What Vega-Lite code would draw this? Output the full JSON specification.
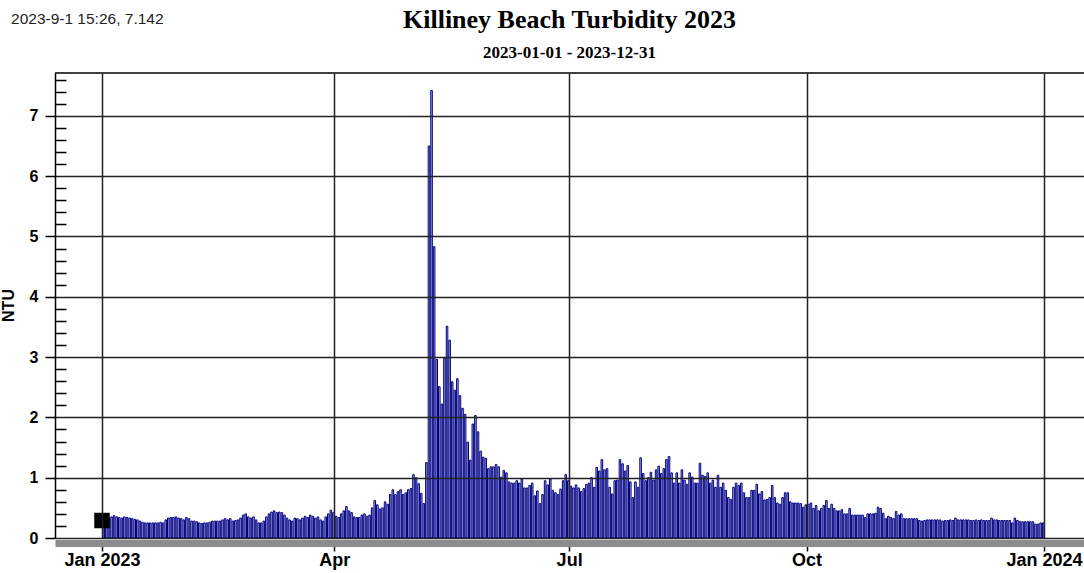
{
"$schema": "https://vega.github.io/schema/vega-lite/v6.json",
"autosize": {"type": "none"},
"padding": {"left": 55, "top": 73, "right": 0, "bottom": 35},
"width": 1029,
"height": 465,
"background": "white",
"config": {"view": {"stroke": null}, "font": "Liberation Sans"},
"title": {"text": "Killiney Beach Turbidity 2023", "subtitle": "2023-01-01 - 2023-12-31", "font": "Liberation Serif", "fontSize": 26, "fontWeight": "bold", "color": "#000", "subtitleFont": "Liberation Serif", "subtitleFontSize": 17, "subtitleFontWeight": "bold", "subtitleColor": "#000", "anchor": "middle", "frame": "group", "offset": 14, "subtitlePadding": 12, "dy": 63},
"datasets": {"turb": [
{"d":"2023-01-01","v":0.30},{"d":"2023-01-02","v":0.30},{"d":"2023-01-03","v":0.33},{"d":"2023-01-04","v":0.35},{"d":"2023-01-05","v":0.37},{"d":"2023-01-06","v":0.35},{"d":"2023-01-07","v":0.34},{"d":"2023-01-08","v":0.33},{"d":"2023-01-09","v":0.35},{"d":"2023-01-10","v":0.34},{"d":"2023-01-11","v":0.33},{"d":"2023-01-12","v":0.32},{"d":"2023-01-13","v":0.31},{"d":"2023-01-14","v":0.30},{"d":"2023-01-15","v":0.28},{"d":"2023-01-16","v":0.26},{"d":"2023-01-17","v":0.25},{"d":"2023-01-18","v":0.25},{"d":"2023-01-19","v":0.25},{"d":"2023-01-20","v":0.25},{"d":"2023-01-21","v":0.25},{"d":"2023-01-22","v":0.25},{"d":"2023-01-23","v":0.26},{"d":"2023-01-24","v":0.25},{"d":"2023-01-25","v":0.30},{"d":"2023-01-26","v":0.33},{"d":"2023-01-27","v":0.34},{"d":"2023-01-28","v":0.34},{"d":"2023-01-29","v":0.35},{"d":"2023-01-30","v":0.33},{"d":"2023-01-31","v":0.32},
{"d":"2023-02-01","v":0.30},{"d":"2023-02-02","v":0.34},{"d":"2023-02-03","v":0.32},{"d":"2023-02-04","v":0.28},{"d":"2023-02-05","v":0.28},{"d":"2023-02-06","v":0.27},{"d":"2023-02-07","v":0.25},{"d":"2023-02-08","v":0.24},{"d":"2023-02-09","v":0.25},{"d":"2023-02-10","v":0.25},{"d":"2023-02-11","v":0.26},{"d":"2023-02-12","v":0.28},{"d":"2023-02-13","v":0.28},{"d":"2023-02-14","v":0.28},{"d":"2023-02-15","v":0.28},{"d":"2023-02-16","v":0.30},{"d":"2023-02-17","v":0.32},{"d":"2023-02-18","v":0.30},{"d":"2023-02-19","v":0.32},{"d":"2023-02-20","v":0.28},{"d":"2023-02-21","v":0.29},{"d":"2023-02-22","v":0.30},{"d":"2023-02-23","v":0.33},{"d":"2023-02-24","v":0.38},{"d":"2023-02-25","v":0.40},{"d":"2023-02-26","v":0.35},{"d":"2023-02-27","v":0.33},{"d":"2023-02-28","v":0.35},
{"d":"2023-03-01","v":0.30},{"d":"2023-03-02","v":0.25},{"d":"2023-03-03","v":0.25},{"d":"2023-03-04","v":0.28},{"d":"2023-03-05","v":0.35},{"d":"2023-03-06","v":0.40},{"d":"2023-03-07","v":0.43},{"d":"2023-03-08","v":0.45},{"d":"2023-03-09","v":0.42},{"d":"2023-03-10","v":0.43},{"d":"2023-03-11","v":0.42},{"d":"2023-03-12","v":0.38},{"d":"2023-03-13","v":0.33},{"d":"2023-03-14","v":0.30},{"d":"2023-03-15","v":0.28},{"d":"2023-03-16","v":0.33},{"d":"2023-03-17","v":0.32},{"d":"2023-03-18","v":0.30},{"d":"2023-03-19","v":0.33},{"d":"2023-03-20","v":0.36},{"d":"2023-03-21","v":0.34},{"d":"2023-03-22","v":0.38},{"d":"2023-03-23","v":0.36},{"d":"2023-03-24","v":0.33},{"d":"2023-03-25","v":0.35},{"d":"2023-03-26","v":0.30},{"d":"2023-03-27","v":0.28},{"d":"2023-03-28","v":0.35},{"d":"2023-03-29","v":0.40},{"d":"2023-03-30","v":0.46},{"d":"2023-03-31","v":0.42},
{"d":"2023-04-01","v":0.36},{"d":"2023-04-02","v":0.34},{"d":"2023-04-03","v":0.40},{"d":"2023-04-04","v":0.45},{"d":"2023-04-05","v":0.52},{"d":"2023-04-06","v":0.45},{"d":"2023-04-07","v":0.42},{"d":"2023-04-08","v":0.35},{"d":"2023-04-09","v":0.34},{"d":"2023-04-10","v":0.34},{"d":"2023-04-11","v":0.38},{"d":"2023-04-12","v":0.40},{"d":"2023-04-13","v":0.36},{"d":"2023-04-14","v":0.38},{"d":"2023-04-15","v":0.50},{"d":"2023-04-16","v":0.62},{"d":"2023-04-17","v":0.55},{"d":"2023-04-18","v":0.48},{"d":"2023-04-19","v":0.50},{"d":"2023-04-20","v":0.60},{"d":"2023-04-21","v":0.56},{"d":"2023-04-22","v":0.72},{"d":"2023-04-23","v":0.80},{"d":"2023-04-24","v":0.72},{"d":"2023-04-25","v":0.77},{"d":"2023-04-26","v":0.80},{"d":"2023-04-27","v":0.72},{"d":"2023-04-28","v":0.75},{"d":"2023-04-29","v":0.80},{"d":"2023-04-30","v":0.82},
{"d":"2023-05-01","v":1.05},{"d":"2023-05-02","v":1.00},{"d":"2023-05-03","v":0.90},{"d":"2023-05-04","v":0.74},{"d":"2023-05-05","v":0.57},{"d":"2023-05-06","v":1.25},{"d":"2023-05-07","v":6.50},{"d":"2023-05-08","v":7.42},{"d":"2023-05-09","v":4.83},{"d":"2023-05-10","v":2.96},{"d":"2023-05-11","v":2.51},{"d":"2023-05-12","v":2.22},{"d":"2023-05-13","v":2.98},{"d":"2023-05-14","v":3.51},{"d":"2023-05-15","v":3.28},{"d":"2023-05-16","v":2.59},{"d":"2023-05-17","v":2.45},{"d":"2023-05-18","v":2.64},{"d":"2023-05-19","v":2.36},{"d":"2023-05-20","v":2.15},{"d":"2023-05-21","v":2.05},{"d":"2023-05-22","v":1.59},{"d":"2023-05-23","v":1.29},{"d":"2023-05-24","v":1.89},{"d":"2023-05-25","v":2.03},{"d":"2023-05-26","v":1.76},{"d":"2023-05-27","v":1.44},{"d":"2023-05-28","v":1.34},{"d":"2023-05-29","v":1.32},{"d":"2023-05-30","v":1.15},{"d":"2023-05-31","v":1.18},
{"d":"2023-06-01","v":1.18},{"d":"2023-06-02","v":1.22},{"d":"2023-06-03","v":1.18},{"d":"2023-06-04","v":1.01},{"d":"2023-06-05","v":1.12},{"d":"2023-06-06","v":1.08},{"d":"2023-06-07","v":0.93},{"d":"2023-06-08","v":0.91},{"d":"2023-06-09","v":0.91},{"d":"2023-06-10","v":0.95},{"d":"2023-06-11","v":0.91},{"d":"2023-06-12","v":0.98},{"d":"2023-06-13","v":0.83},{"d":"2023-06-14","v":0.83},{"d":"2023-06-15","v":0.87},{"d":"2023-06-16","v":0.91},{"d":"2023-06-17","v":0.70},{"d":"2023-06-18","v":0.78},{"d":"2023-06-19","v":0.57},{"d":"2023-06-20","v":0.72},{"d":"2023-06-21","v":0.95},{"d":"2023-06-22","v":0.88},{"d":"2023-06-23","v":0.98},{"d":"2023-06-24","v":0.79},{"d":"2023-06-25","v":0.75},{"d":"2023-06-26","v":0.72},{"d":"2023-06-27","v":0.81},{"d":"2023-06-28","v":0.95},{"d":"2023-06-29","v":1.05},{"d":"2023-06-30","v":0.95},
{"d":"2023-07-01","v":0.86},{"d":"2023-07-02","v":0.83},{"d":"2023-07-03","v":0.88},{"d":"2023-07-04","v":0.83},{"d":"2023-07-05","v":0.77},{"d":"2023-07-06","v":0.82},{"d":"2023-07-07","v":0.89},{"d":"2023-07-08","v":0.91},{"d":"2023-07-09","v":1.00},{"d":"2023-07-10","v":0.84},{"d":"2023-07-11","v":1.17},{"d":"2023-07-12","v":1.11},{"d":"2023-07-13","v":1.30},{"d":"2023-07-14","v":1.13},{"d":"2023-07-15","v":1.15},{"d":"2023-07-16","v":0.84},{"d":"2023-07-17","v":0.73},{"d":"2023-07-18","v":0.95},{"d":"2023-07-19","v":0.96},{"d":"2023-07-20","v":1.30},{"d":"2023-07-21","v":1.23},{"d":"2023-07-22","v":1.11},{"d":"2023-07-23","v":1.20},{"d":"2023-07-24","v":0.93},{"d":"2023-07-25","v":0.67},{"d":"2023-07-26","v":0.93},{"d":"2023-07-27","v":0.84},{"d":"2023-07-28","v":1.33},{"d":"2023-07-29","v":1.07},{"d":"2023-07-30","v":0.95},{"d":"2023-07-31","v":1.00},
{"d":"2023-08-01","v":1.09},{"d":"2023-08-02","v":0.96},{"d":"2023-08-03","v":1.13},{"d":"2023-08-04","v":1.19},{"d":"2023-08-05","v":1.07},{"d":"2023-08-06","v":1.15},{"d":"2023-08-07","v":1.30},{"d":"2023-08-08","v":1.35},{"d":"2023-08-09","v":1.08},{"d":"2023-08-10","v":0.91},{"d":"2023-08-11","v":1.08},{"d":"2023-08-12","v":0.91},{"d":"2023-08-13","v":1.13},{"d":"2023-08-14","v":0.96},{"d":"2023-08-15","v":0.89},{"d":"2023-08-16","v":1.08},{"d":"2023-08-17","v":1.01},{"d":"2023-08-18","v":0.91},{"d":"2023-08-19","v":0.91},{"d":"2023-08-20","v":1.24},{"d":"2023-08-21","v":1.04},{"d":"2023-08-22","v":1.02},{"d":"2023-08-23","v":1.08},{"d":"2023-08-24","v":0.91},{"d":"2023-08-25","v":0.96},{"d":"2023-08-26","v":0.84},{"d":"2023-08-27","v":1.04},{"d":"2023-08-28","v":0.84},{"d":"2023-08-29","v":0.91},{"d":"2023-08-30","v":0.79},{"d":"2023-08-31","v":0.67},
{"d":"2023-09-01","v":0.64},{"d":"2023-09-02","v":0.84},{"d":"2023-09-03","v":0.91},{"d":"2023-09-04","v":0.87},{"d":"2023-09-05","v":0.91},{"d":"2023-09-06","v":0.75},{"d":"2023-09-07","v":0.67},{"d":"2023-09-08","v":0.67},{"d":"2023-09-09","v":0.79},{"d":"2023-09-10","v":0.79},{"d":"2023-09-11","v":0.89},{"d":"2023-09-12","v":0.73},{"d":"2023-09-13","v":0.77},{"d":"2023-09-14","v":0.63},{"d":"2023-09-15","v":0.64},{"d":"2023-09-16","v":0.67},{"d":"2023-09-17","v":0.87},{"d":"2023-09-18","v":0.67},{"d":"2023-09-19","v":0.58},{"d":"2023-09-20","v":0.56},{"d":"2023-09-21","v":0.67},{"d":"2023-09-22","v":0.75},{"d":"2023-09-23","v":0.75},{"d":"2023-09-24","v":0.60},{"d":"2023-09-25","v":0.58},{"d":"2023-09-26","v":0.58},{"d":"2023-09-27","v":0.58},{"d":"2023-09-28","v":0.57},{"d":"2023-09-29","v":0.51},{"d":"2023-09-30","v":0.55},
{"d":"2023-10-01","v":0.56},{"d":"2023-10-02","v":0.58},{"d":"2023-10-03","v":0.49},{"d":"2023-10-04","v":0.54},{"d":"2023-10-05","v":0.45},{"d":"2023-10-06","v":0.49},{"d":"2023-10-07","v":0.54},{"d":"2023-10-08","v":0.62},{"d":"2023-10-09","v":0.49},{"d":"2023-10-10","v":0.56},{"d":"2023-10-11","v":0.49},{"d":"2023-10-12","v":0.45},{"d":"2023-10-13","v":0.45},{"d":"2023-10-14","v":0.47},{"d":"2023-10-15","v":0.40},{"d":"2023-10-16","v":0.40},{"d":"2023-10-17","v":0.49},{"d":"2023-10-18","v":0.38},{"d":"2023-10-19","v":0.38},{"d":"2023-10-20","v":0.38},{"d":"2023-10-21","v":0.38},{"d":"2023-10-22","v":0.38},{"d":"2023-10-23","v":0.34},{"d":"2023-10-24","v":0.40},{"d":"2023-10-25","v":0.40},{"d":"2023-10-26","v":0.40},{"d":"2023-10-27","v":0.41},{"d":"2023-10-28","v":0.51},{"d":"2023-10-29","v":0.49},{"d":"2023-10-30","v":0.41},{"d":"2023-10-31","v":0.32},
{"d":"2023-11-01","v":0.36},{"d":"2023-11-02","v":0.34},{"d":"2023-11-03","v":0.32},{"d":"2023-11-04","v":0.44},{"d":"2023-11-05","v":0.38},{"d":"2023-11-06","v":0.40},{"d":"2023-11-07","v":0.32},{"d":"2023-11-08","v":0.32},{"d":"2023-11-09","v":0.32},{"d":"2023-11-10","v":0.32},{"d":"2023-11-11","v":0.32},{"d":"2023-11-12","v":0.32},{"d":"2023-11-13","v":0.29},{"d":"2023-11-14","v":0.28},{"d":"2023-11-15","v":0.29},{"d":"2023-11-16","v":0.30},{"d":"2023-11-17","v":0.30},{"d":"2023-11-18","v":0.30},{"d":"2023-11-19","v":0.30},{"d":"2023-11-20","v":0.30},{"d":"2023-11-21","v":0.30},{"d":"2023-11-22","v":0.28},{"d":"2023-11-23","v":0.29},{"d":"2023-11-24","v":0.29},{"d":"2023-11-25","v":0.30},{"d":"2023-11-26","v":0.29},{"d":"2023-11-27","v":0.33},{"d":"2023-11-28","v":0.30},{"d":"2023-11-29","v":0.30},{"d":"2023-11-30","v":0.30},
{"d":"2023-12-01","v":0.30},{"d":"2023-12-02","v":0.30},{"d":"2023-12-03","v":0.29},{"d":"2023-12-04","v":0.29},{"d":"2023-12-05","v":0.30},{"d":"2023-12-06","v":0.29},{"d":"2023-12-07","v":0.30},{"d":"2023-12-08","v":0.29},{"d":"2023-12-09","v":0.29},{"d":"2023-12-10","v":0.29},{"d":"2023-12-11","v":0.33},{"d":"2023-12-12","v":0.30},{"d":"2023-12-13","v":0.30},{"d":"2023-12-14","v":0.29},{"d":"2023-12-15","v":0.29},{"d":"2023-12-16","v":0.29},{"d":"2023-12-17","v":0.29},{"d":"2023-12-18","v":0.29},{"d":"2023-12-19","v":0.25},{"d":"2023-12-20","v":0.33},{"d":"2023-12-21","v":0.29},{"d":"2023-12-22","v":0.27},{"d":"2023-12-23","v":0.27},{"d":"2023-12-24","v":0.27},{"d":"2023-12-25","v":0.27},{"d":"2023-12-26","v":0.27},{"d":"2023-12-27","v":0.27},{"d":"2023-12-28","v":0.23},{"d":"2023-12-29","v":0.23},{"d":"2023-12-30","v":0.25},{"d":"2023-12-31","v":0.25}
]},
"layer": [
{"data": {"name": "turb"},
 "mark": {"type": "bar", "fill": "#b0b4e4", "stroke": "#000080", "strokeWidth": 1},
 "encoding": {
  "x": {"field": "d", "type": "temporal", "timeUnit": "utcyearmonthdate",
   "scale": {"type": "utc", "domain": [{"year": 2022, "month": 12, "date": 13, "hours": 19, "utc": true}, {"year": 2024, "month": 1, "date": 16, "hours": 12, "utc": true}]},
   "axis": {"values": [{"year": 2023, "month": 1, "date": 1, "utc": true}, {"year": 2023, "month": 4, "date": 1, "utc": true}, {"year": 2023, "month": 7, "date": 1, "utc": true}, {"year": 2023, "month": 10, "date": 1, "utc": true}, {"year": 2024, "month": 1, "date": 1, "utc": true}],
    "title": null, "tickCount": 100,
    "labelExpr": "utcFormat(datum.value, '%b') + (utcmonth(datum.value) == 0 ? ' ' + utcFormat(datum.value, '%Y') : '')",
    "labelFont": "Liberation Sans", "labelFontSize": 18, "labelFontWeight": "bold", "labelColor": "#000",
    "labelPadding": 0, "labelFlush": false, "labelOverlap": false,
    "tickColor": "#000", "tickWidth": 1.5, "tickSize": 8, "offset": 5,
    "domainColor": "#8c8c8c", "domainWidth": 7,
    "grid": true, "gridColor": "#222", "gridWidth": 1.5, "zindex": 1}},
  "y": {"field": "v", "type": "quantitative",
   "scale": {"domain": [0, 7.71], "nice": false},
   "axis": {"values": [0,0.2,0.4,0.6,0.8,1,1.2,1.4,1.6,1.8,2,2.2,2.4,2.6,2.8,3,3.2,3.4,3.6,3.8,4,4.2,4.4,4.6,4.8,5,5.2,5.4,5.6,5.8,6,6.2,6.4,6.6,6.8,7,7.2,7.4,7.6],
    "tickCount": 100,
    "title": "NTU", "titleFont": "Liberation Sans", "titleFontSize": 16, "titleFontWeight": "bold", "titleColor": "#000", "titleX": -47, "titleY": 232, "titleAlign": "center", "titleBaseline": "middle", "titleAngle": -90,
    "labelExpr": "abs(datum.value - round(datum.value)) < 0.01 ? format(datum.value, 'd') : ''",
    "labelFont": "Liberation Sans", "labelFontSize": 16, "labelFontWeight": "bold", "labelColor": "#000",
    "labelPadding": 7, "labelOverlap": false,
    "tickColor": "#000", "tickWidth": 1.5,
    "tickSize": {"condition": {"test": "abs(datum.value - round(datum.value)) < 0.01", "value": 10}, "value": -11},
    "domainColor": "#000", "domainWidth": 1.5,
    "grid": true, "gridColor": "#222", "gridWidth": 1.5,
    "gridOpacity": {"condition": {"test": "abs(datum.value - round(datum.value)) < 0.01", "value": 1}, "value": 0},
    "zindex": 1}}
 }},
{"data": {"values": [{}]},
 "mark": {"type": "rule", "color": "#000", "strokeWidth": 1.5},
 "encoding": {"y": {"datum": 7.71}}},
{"data": {"values": [{}]},
 "mark": {"type": "point", "shape": "square", "filled": true, "color": "#000", "size": 240, "opacity": 1},
 "encoding": {"x": {"datum": {"year": 2023, "month": 1, "date": 1, "utc": true}, "type": "temporal"}, "y": {"datum": 0.29}}},
{"data": {"values": [{}]},
 "mark": {"type": "text", "align": "left", "baseline": "middle", "font": "Liberation Sans", "fontSize": 15.5, "color": "#222", "text": "2023-9-1 15:26, 7.142"},
 "encoding": {"x": {"datum": {"year": 2022, "month": 11, "date": 26, "hours": 18, "utc": true}, "type": "temporal"}, "y": {"datum": 8.61}}}
]
}
